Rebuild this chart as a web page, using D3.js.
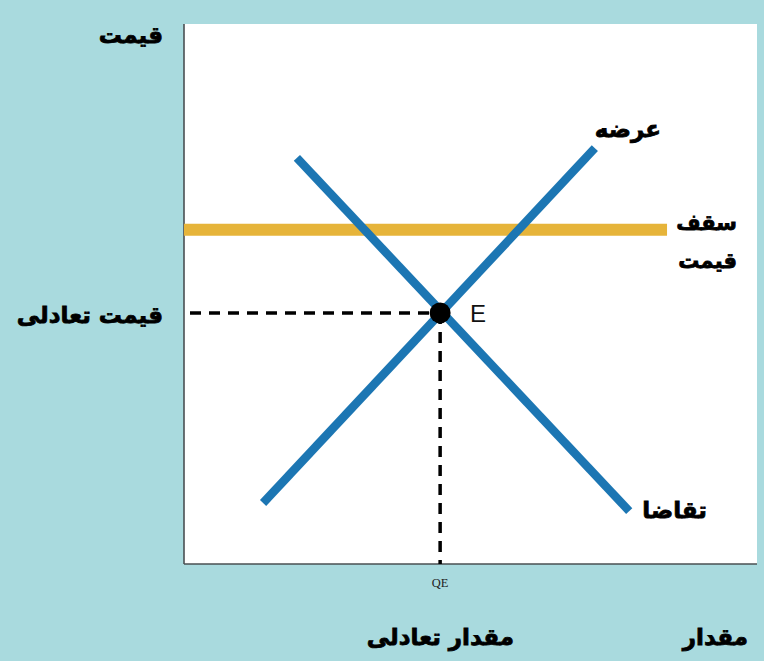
<!DOCTYPE html>
<html><head><meta charset="utf-8">
<script src="https://cdn.jsdelivr.net/npm/d3@7"></script>
<style>html,body{margin:0;padding:0;background:#a9dade;}svg{display:block;}</style>
</head><body>
<svg id="c" width="764" height="661"></svg>
<script>
// data (domain units 0..100)
const demand = [{q:19.7,p:75.2},{q:77.7,p:9.8}];
const supply = [{q:13.8,p:11.3},{q:71.7,p:77.0}];
const ceiling = [{q:0,p:61.9},{q:84.3,p:61.9}];
const equilibrium = {q:44.7,p:46.5};
const labels = {
  yAxis:"قیمت", xAxis:"مقدار", eqPrice:"قیمت تعادلی", eqQty:"مقدار تعادلی",
  supply:"عرضه", demand:"تقاضا", ceiling1:"سقف", ceiling2:"قیمت", point:"E", qTick:"QE"
};

const svg = d3.select("#c");
const L=184, R=757, T=24, B=564;
const x = d3.scaleLinear().domain([0,100]).range([L,R]);
const y = d3.scaleLinear().domain([0,100]).range([B,T]);

svg.append("rect").attr("width",764).attr("height",661).attr("fill","#a9dade");
svg.append("rect").attr("x",L).attr("y",T).attr("width",R-L).attr("height",B-T).attr("fill","#ffffff");

// axes
svg.append("line").attr("x1",L).attr("x2",L).attr("y1",T).attr("y2",B).attr("stroke","#4a4f52").attr("stroke-width",1.6);
svg.append("line").attr("x1",L).attr("x2",R).attr("y1",B).attr("y2",B).attr("stroke","#4a4f52").attr("stroke-width",1.6);

const line = d3.line().x(d=>x(d.q)).y(d=>y(d.p));

// ceiling
svg.append("path").datum(ceiling).attr("d",line).attr("stroke","#e6b43a").attr("stroke-width",12).attr("fill","none");

// dashed guides
svg.append("line").attr("x1",x(0)+6).attr("x2",x(equilibrium.q)).attr("y1",y(equilibrium.p)).attr("y2",y(equilibrium.p))
  .attr("stroke","#000").attr("stroke-width",3.5).attr("stroke-dasharray","11,8");
svg.append("line").attr("x1",x(equilibrium.q)).attr("x2",x(equilibrium.q)).attr("y1",y(equilibrium.p)).attr("y2",y(0))
  .attr("stroke","#000").attr("stroke-width",3.5).attr("stroke-dasharray","11,8");

// curves
svg.append("path").datum(demand).attr("d",line).attr("stroke","#1c76b3").attr("stroke-width",8.5).attr("fill","none");
svg.append("path").datum(supply).attr("d",line).attr("stroke","#1c76b3").attr("stroke-width",8.5).attr("fill","none");

svg.append("circle").attr("cx",x(equilibrium.q)).attr("cy",y(equilibrium.p)).attr("r",10.5).attr("fill","#000");

const fa = "'DejaVu Sans', sans-serif";
function t(txt,px,py,anchor,size){
  return svg.append("text").attr("x",px).attr("y",py).attr("text-anchor",anchor||"end")
    .attr("font-family",fa).attr("font-weight","bold").attr("font-size",size||23)
    .attr("fill","#000").attr("stroke","#000").attr("stroke-width",0.8).text(txt);
}
t(labels.yAxis,163,43);
t(labels.eqPrice,163,323);
t(labels.eqQty,514,645);
t(labels.xAxis,748,645);
t(labels.supply,661,137);
t(labels.ceiling1,737,230,"end",21);
t(labels.ceiling2,737,268,"end",21);
t(labels.demand,707,518);

svg.append("text").attr("x",x(equilibrium.q)+38).attr("y",y(equilibrium.p)+9).attr("text-anchor","middle")
  .attr("font-family","'Liberation Sans', sans-serif").attr("font-size",24).attr("fill","#111").text(labels.point);
svg.append("text").attr("x",x(equilibrium.q)).attr("y",587).attr("text-anchor","middle")
  .attr("font-family","'Liberation Serif', serif").attr("font-size",12.5).attr("fill","#222").text(labels.qTick);
</script>
</body></html>
